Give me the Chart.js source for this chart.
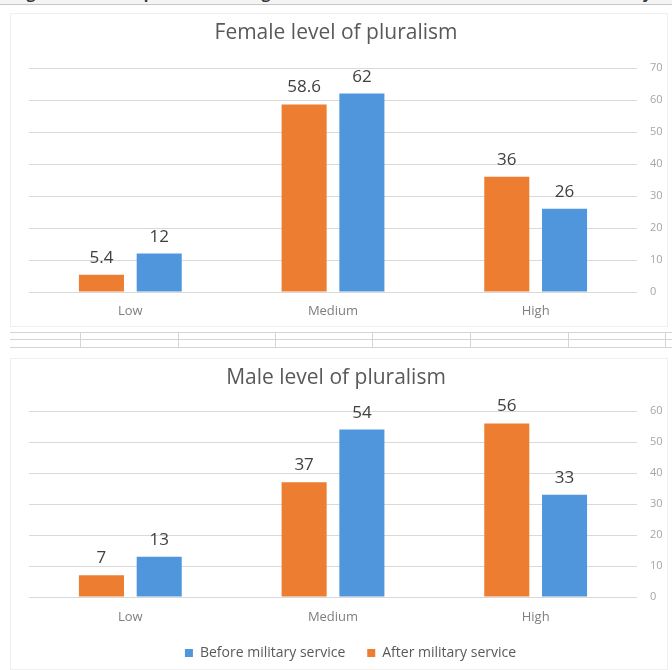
<!DOCTYPE html>
<html>
<head>
<meta charset="utf-8">
<title>Level of pluralism</title>
<script src="https://cdn.jsdelivr.net/npm/chart.js@4.4.1/dist/chart.umd.min.js"></script>
<style>
    html, body {
        margin: 0;
        padding: 0;
        background: #fff;
    }
    body {
        position: relative;
        width: 672px;
        height: 670px;
        overflow: hidden;
        font-family: "Open Sans", sans-serif;
    }
    .caption {
        position: absolute;
        left: 0;
        top: 0;
        width: 672px;
        height: 4px;
        overflow: hidden;
        border-bottom: 1px solid #c8c8c8;
        background: #f4f4f4;
    }
    .caption span {
        position: absolute;
        left: 14px;
        top: -17px;
        white-space: nowrap;
        font: bold 15px "Open Sans", sans-serif;
        color: #333;
    }
    .panel {
        position: absolute;
        left: 10px;
        width: 656px;
        border: 1px solid #efefef;
    }
    .sheet {
        position: absolute;
        left: 10px;
        top: 332px;
        width: 662px;
        height: 15px;
    }
    .sheet .h, .sheet .v {
        position: absolute;
        background: #d4d4d4;
    }
    .sheet .h { left: 0; width: 100%; height: 1px; }
    .sheet .v { top: 0; width: 1px; height: 100%; }
    .box {
        position: absolute;
        left: 0;
        width: 672px;
    }
</style>
</head>
<body>
<div class="caption"><span>Figure 2: Level of pluralism among female and male soldiers before and after military service</span></div>
<div class="panel" style="top:13px;height:312px"></div>
<div class="panel" style="top:358px;height:310px"></div>
<div class="sheet" id="sheet"></div>

<div class="box" style="top:0;height:330px"><canvas id="female"></canvas></div>
<div class="box" style="top:350px;height:320px"><canvas id="male"></canvas></div>

<script>
const levels = ['Low', 'Medium', 'High'];

const femaleBefore = [12, 62, 26];
const femaleAfter = [5.4, 58.6, 36];

const maleBefore = [13, 54, 33];
const maleAfter = [7, 37, 56];

const BLUE = '#5096dc';
const ORANGE = '#ed7d31';
const TEXT = '#595959';
const GRID = '#d9d9d9';
const FONT = '"Open Sans", sans-serif';

// spreadsheet cell borders between the two charts
const sheet = document.getElementById('sheet');
[0, 7, 15].forEach(y => {
    const line = document.createElement('div');
    line.className = 'h';
    line.style.top = y + 'px';
    sheet.appendChild(line);
});
[70, 168, 265, 362, 460, 558, 655].forEach(x => {
    const line = document.createElement('div');
    line.className = 'v';
    line.style.left = x + 'px';
    sheet.appendChild(line);
});

// value labels above each bar
const barValues = {
    id: 'barValues',
    afterDatasetsDraw(chart) {
        const ctx = chart.ctx;
        ctx.save();
        ctx.font = '17px ' + FONT;
        ctx.fillStyle = '#404040';
        ctx.textAlign = 'center';
        ctx.textBaseline = 'alphabetic';
        chart.data.datasets.forEach((ds, i) => {
            chart.getDatasetMeta(i).data.forEach((bar, j) => {
                ctx.fillText(String(ds.data[j]), bar.x, bar.y - 12);
            });
        });
        ctx.restore();
    }
};

// title centred on the whole canvas rather than on the padded layout box
const panelTitle = {
    id: 'panelTitle',
    afterDraw(chart, args, opts) {
        const ctx = chart.ctx;
        ctx.save();
        ctx.font = '21px ' + FONT;
        ctx.fillStyle = TEXT;
        ctx.textAlign = 'center';
        ctx.textBaseline = 'middle';
        ctx.fillText(opts.text, chart.width / 2, opts.y);
        ctx.restore();
    }
};

function makeChart(id, title, before, after, yMax, opts) {
    const ctx = document.getElementById(id);
    return new Chart(ctx, {
        type: 'bar',
        data: {
            labels: levels,
            datasets: [
                {
                    label: 'After military service',
                    data: after,
                    backgroundColor: ORANGE,
                    categoryPercentage: 0.57,
                    barPercentage: 0.78
                },
                {
                    label: 'Before military service',
                    data: before,
                    backgroundColor: BLUE,
                    categoryPercentage: 0.57,
                    barPercentage: 0.78
                }
            ]
        },
        options: {
            responsive: true,
            maintainAspectRatio: false,
            animation: false,
            layout: {
                padding: { left: 29, right: 0, top: opts.top, bottom: 0 }
            },
            plugins: {
                panelTitle: { text: title, y: opts.titleY },
                legend: {
                    display: opts.legend,
                    position: 'bottom',
                    labels: {
                        color: TEXT,
                        boxWidth: 8,
                        boxHeight: 8,
                        padding: 22,
                        font: { family: FONT, size: 14 },
                        sort: (a, b) => b.datasetIndex - a.datasetIndex
                    }
                },
                tooltip: { enabled: false }
            },
            scales: {
                x: {
                    grid: { display: false, drawTicks: false },
                    border: { display: false },
                    ticks: {
                        color: '#7f7f7f',
                        padding: opts.tickPadding,
                        font: { family: FONT, size: 13 }
                    },
                    afterFit: scale => { scale.height = opts.xHeight; }
                },
                y: {
                    position: 'right',
                    min: 0,
                    max: yMax,
                    grid: { color: GRID, drawTicks: false },
                    border: { display: false },
                    ticks: {
                        stepSize: 10,
                        color: '#a6a6a6',
                        padding: 13,
                        font: { family: FONT, size: 11 }
                    },
                    afterFit: scale => { scale.width = 35; }
                }
            }
        },
        plugins: [barValues, panelTitle]
    });
}

makeChart('female', 'Female level of pluralism', femaleBefore, femaleAfter, 70, {
    top: 68,
    titleY: 33,
    legend: false,
    xHeight: 38,
    tickPadding: 11
});

makeChart('male', 'Male level of pluralism', maleBefore, maleAfter, 60, {
    top: 61,
    titleY: 28,
    legend: true,
    xHeight: 27,
    tickPadding: 12
});
</script>
</body>
</html>
